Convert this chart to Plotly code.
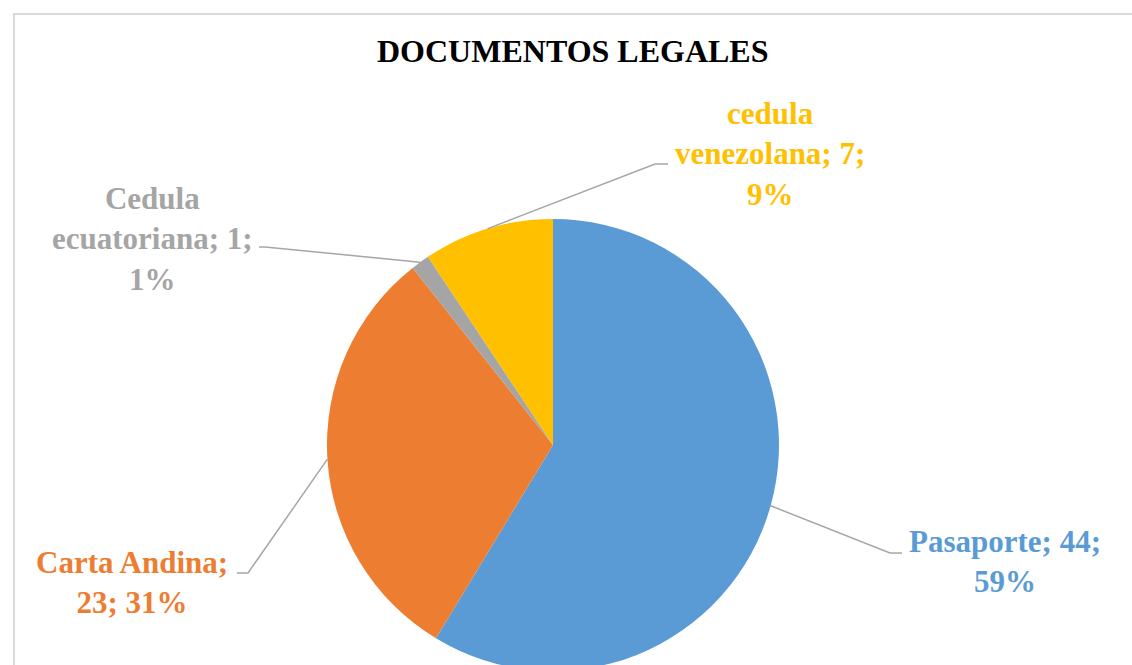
import math
import textwrap
import plotly.graph_objects as go

# ---------------- data ----------------
categories = ["Pasaporte", "Carta Andina", "Cedula ecuatoriana", "cedula venezolana"]
values = [44, 23, 1, 7]
colors = ["#5B9BD5", "#ED7D31", "#A5A5A5", "#FFC000"]
title_text = "DOCUMENTOS LEGALES"

# ---------------- layout settings ----------------
W, H = 1132, 700
FONT = "Liberation Serif, Times New Roman, serif"
LABEL_SIZE = 31
wrap_widths = [14, 13, 15, 14]
# label block centres (px) and leader-line elbow / end points (px)
label_centers = [(1005, 561), (132, 582), (152, 239), (770, 154)]
leader_elbows = [(890, 553), (248, 573), (265, 247), (655, 164)]
leader_ends = [(902, 553), (237, 573), (259, 247), (668, 164)]

pie_cx, pie_top, pie_r = 553, 219, 226


def px(x):
    return x / W


def py(y):
    return 1 - y / H


dom_x = [px(pie_cx - pie_r), px(pie_cx + pie_r)]
dom_y = [py(pie_top + 2 * pie_r), py(pie_top)]
pie_cy = pie_top + pie_r

fig = go.Figure()
fig.add_trace(go.Pie(
    labels=categories,
    values=values,
    sort=False,
    direction="clockwise",
    rotation=0,
    marker=dict(colors=colors, line=dict(width=0)),
    textinfo="none",
    hoverinfo="label+value+percent",
    showlegend=False,
    domain=dict(x=dom_x, y=dom_y),
))

total = sum(values)
shapes = []
annotations = []
cum = 0
for i, (name, v, col) in enumerate(zip(categories, values, colors)):
    mid = (cum + v / 2) / total * 2 * math.pi
    cum += v
    ex = pie_cx + pie_r * math.sin(mid)
    ey = pie_cy - pie_r * math.cos(mid)
    bx, by = leader_elbows[i]
    tx, ty = leader_ends[i]
    path = f"M {px(ex)} {py(ey)} L {px(bx)} {py(by)} L {px(tx)} {py(ty)}"
    shapes.append(dict(type="path", xref="paper", yref="paper", path=path,
                       line=dict(color="#A6A6A6", width=1.5)))
    pct = round(v / total * 100)
    full = f"{name}; {v}; {pct}%"
    lines = textwrap.wrap(full, width=wrap_widths[i])
    cx, cy = label_centers[i]
    annotations.append(dict(
        text="<br>".join(lines), x=px(cx), y=py(cy), xref="paper", yref="paper",
        xanchor="center", yanchor="middle", showarrow=False, align="center",
        font=dict(family=FONT, size=LABEL_SIZE, color=col, weight="bold"),
    ))

# chart border (extends beyond the visible window on right/bottom)
shapes.append(dict(type="rect", xref="paper", yref="paper",
                   x0=px(14), y0=py(14), x1=1.05, y1=-0.05,
                   line=dict(color="#D9D9D9", width=2), fillcolor="rgba(0,0,0,0)"))

annotations.append(dict(
    text=title_text, x=px(572.5), y=py(51), xref="paper", yref="paper",
    xanchor="center", yanchor="middle", showarrow=False,
    font=dict(family=FONT, size=32, color="#000000", weight="bold"),
))

fig.update_layout(
    width=W, height=H,
    margin=dict(l=0, r=0, t=0, b=0),
    paper_bgcolor="white",
    plot_bgcolor="white",
    shapes=shapes,
    annotations=annotations,
)

fig.write_html(
    "out.html",
    config={"displayModeBar": False},
    post_script="document.body.style.margin='0';document.body.style.overflow='hidden';",
)
